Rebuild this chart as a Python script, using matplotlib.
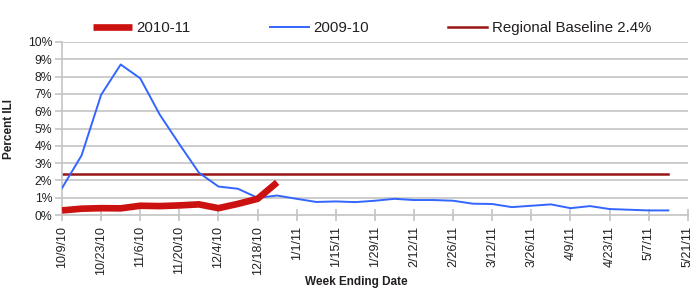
import matplotlib
matplotlib.use("Agg")
import matplotlib.pyplot as plt
import matplotlib.dates as mdates
import numpy as np
import datetime as dt

plt.rcParams['font.family'] = ['Liberation Sans', 'DejaVu Sans']

start = dt.date(2010, 10, 9)

season_2009_10 = [1.56, 3.45, 6.95, 8.7, 7.9, 5.8, 4.1, 2.45, 1.65, 1.52, 1.0, 1.13, 0.94,
                  0.76, 0.79, 0.75, 0.83, 0.94, 0.87, 0.87, 0.83, 0.66, 0.64, 0.46,
                  0.54, 0.62, 0.40, 0.52, 0.35, 0.31, 0.27, 0.27]
season_2010_11 = [0.27, 0.37, 0.40, 0.39, 0.54, 0.52, 0.56, 0.62, 0.40, 0.65, 0.94, 1.89]
baseline = 2.4

tick_labels = ["10/9/10", "10/23/10", "11/6/10", "11/20/10", "12/4/10", "12/18/10",
               "1/1/11", "1/15/11", "1/29/11", "2/12/11", "2/26/11", "3/12/11",
               "3/26/11", "4/9/11", "4/23/11", "5/7/11", "5/21/11"]
y_labels = ["0%", "1%", "2%", "3%", "4%", "5%", "6%", "7%", "8%", "9%", "10%"]

weeks_a = [start + dt.timedelta(days=7 * i) for i in range(len(season_2009_10))]
weeks_b = [start + dt.timedelta(days=7 * i) for i in range(len(season_2010_11))]
tick_dates = [start + dt.timedelta(days=14 * i) for i in range(len(tick_labels))]

fig = plt.figure(figsize=(7, 3), dpi=100)
ax = fig.add_axes([0.0886, 0.283, 0.894, 0.577])

text_color = '#231F20'
grid_color = '#C4C4C4'

for v in range(1, 11):
    ax.axhline(v, color=grid_color, lw=1.2, zorder=1)

ax.plot(weeks_b, season_2010_11, color='#CC1111', lw=4.8, label='2010-11', zorder=4,
        solid_capstyle='butt', solid_joinstyle='round')
ax.plot(weeks_a, season_2009_10, color='#3366FF', lw=1.4, label='2009-10', zorder=3)
ax.plot([weeks_a[0], weeks_a[-1]], [baseline, baseline], color='#9A1515', lw=1.8,
        label='Regional Baseline 2.4%', zorder=2)

ax.set_xlim(mdates.date2num(tick_dates[0]), mdates.date2num(tick_dates[-1]))
ax.set_ylim(0, 10)
ax.set_yticks(range(11))
ax.set_yticklabels(y_labels)
ax.set_xticks([mdates.date2num(d) for d in tick_dates])
ax.set_xticklabels(tick_labels, rotation=90)

for s in ['top', 'right']:
    ax.spines[s].set_visible(False)
for s in ['left', 'bottom']:
    ax.spines[s].set_color(grid_color)
    ax.spines[s].set_linewidth(1.2)
ax.tick_params(axis='y', colors=grid_color, labelcolor=text_color, labelsize=8.8,
               length=5, width=1.2, pad=2)
ax.tick_params(axis='x', colors=grid_color, labelcolor=text_color, labelsize=9,
               direction='inout', length=8, width=1.2, pad=4)

ax.set_ylabel('Percent ILI', fontsize=8.5, fontweight='bold', color=text_color)
ax.yaxis.set_label_coords(-0.075, 0.5)
ax.set_xlabel('Week Ending Date', fontsize=8.5, fontweight='bold', color=text_color)
ax.xaxis.set_label_coords(0.47, -0.35)

leg = fig.legend(loc='upper left', bbox_to_anchor=(0.113, 0.975), ncol=3, frameon=False,
                 fontsize=10.8, handlelength=2.6, columnspacing=5.3, handletextpad=0.3)
for t in leg.get_texts():
    t.set_color(text_color)

fig.savefig('out.png', dpi=100)
